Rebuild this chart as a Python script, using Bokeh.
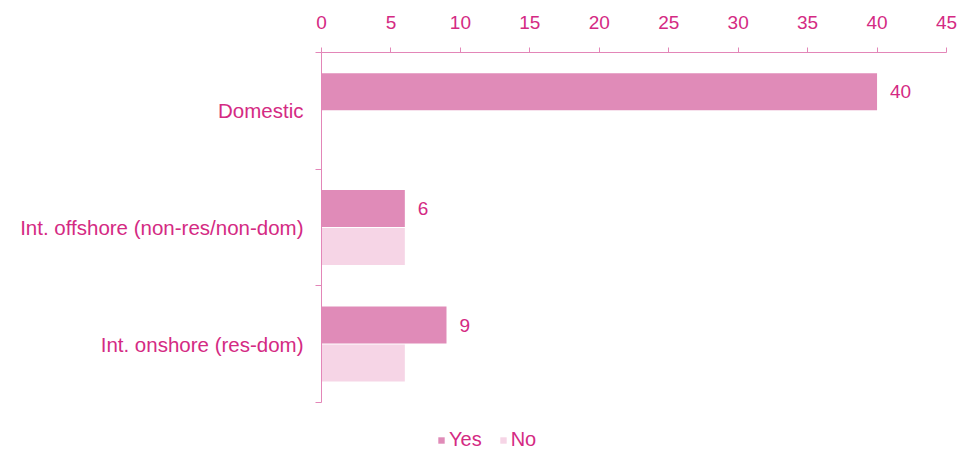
from bokeh.plotting import figure
from bokeh.models import Range1d, FixedTicker, ColumnDataSource, Legend, LegendItem
from bokeh.embed import file_html
from bokeh.resources import INLINE
from bokeh.core.properties import value

categories = ["Domestic", "Int. offshore (non-res/non-dom)", "Int. onshore (res-dom)"]
yes_values = [40, 6, 9]
no_values = [0, 6, 6]
x_ticks = [0, 5, 10, 15, 20, 25, 30, 35, 40, 45]

TEXT = "#D42A83"
AXIS = "#E386B8"
YES = "#E08BB8"
NO = "#F6D5E6"
FONT = "Liberation Sans"

n = len(categories)
centers = [n - i - 0.5 for i in range(n)]
off = 0.163
h = 0.318

src = ColumnDataSource(dict(
    cat=categories,
    yes=yes_values,
    no=no_values,
    y_yes=[c + off for c in centers],
    y_no=[c - off for c in centers],
    lbl=[str(v) for v in yes_values],
))

p = figure(width=959, height=452, output_backend="svg", toolbar_location=None,
           x_range=Range1d(0, 45), y_range=Range1d(-0.43, n),
           x_axis_location="above",
           min_border_left=321, min_border_top=52, min_border_right=13, min_border_bottom=0)
p.outline_line_color = None
p.grid.grid_line_color = None
p.background_fill_color = "white"
p.border_fill_color = "white"

r_yes = p.hbar(y="y_yes", left=0, right="yes", height=h, source=src,
               fill_color=YES, line_color=None)
r_no = p.hbar(y="y_no", left=0, right="no", height=h, source=src,
              fill_color=NO, line_color=None)

p.text(x="yes", y="y_yes", text="lbl", source=src, x_offset=13,
       text_baseline="middle", text_align="left", text_color=TEXT,
       text_font=value(FONT), text_font_size="19px")

xa = p.xaxis[0]
xa.ticker = FixedTicker(ticks=x_ticks)
xa.axis_line_color = AXIS
xa.major_tick_line_color = AXIS
xa.major_tick_out = 5
xa.major_tick_in = 0
xa.minor_tick_line_color = None
xa.major_label_text_color = TEXT
xa.major_label_text_font = FONT
xa.major_label_text_font_size = "19px"
xa.major_label_standoff = 19

ya = p.yaxis[0]
ya.ticker = FixedTicker(ticks=centers, minor_ticks=[float(i) for i in range(n + 1)])
ya.bounds = (0, n)
ya.major_label_overrides = {c: cat for c, cat in zip(centers, categories)}
ya.axis_line_color = AXIS
ya.major_tick_line_color = None
ya.major_tick_out = 0
ya.major_tick_in = 0
ya.minor_tick_line_color = AXIS
ya.minor_tick_out = 6
ya.minor_tick_in = 0
ya.major_label_text_color = TEXT
ya.major_label_text_font = FONT
ya.major_label_text_font_size = "20.5px"
ya.major_label_standoff = 12

legend = Legend(items=[LegendItem(label="Yes", renderers=[r_yes]),
                       LegendItem(label="No", renderers=[r_no])],
                orientation="horizontal", location=(116, 1),
                glyph_width=8, glyph_height=8, label_standoff=4, spacing=17,
                label_text_font=FONT, label_text_font_size="20px",
                label_text_color=TEXT, border_line_color=None,
                background_fill_alpha=0, padding=2, margin=0)
p.add_layout(legend, "center")

open("out.html", "w").write(file_html(p, INLINE))
